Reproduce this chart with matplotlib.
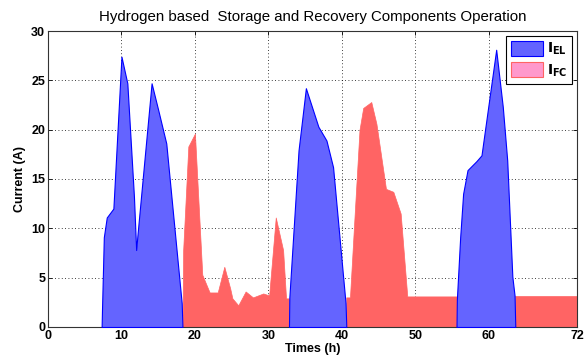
import matplotlib
matplotlib.use("Agg")
import matplotlib.pyplot as plt
from matplotlib.patches import Patch

# Electrolyzer current segments (time h, current A)
el1_t = [7.3, 7.35, 7.6, 8.0, 8.9, 10.0, 10.8, 11.7, 12.0, 12.2, 14.1, 15.0, 16.1, 18.2, 18.3]
el1_v = [0, 1.7, 9.1, 11.1, 12.0, 27.4, 24.7, 13.2, 7.8, 9.5, 24.7, 22.0, 18.6, 2.4, 0]
el2_t = [32.8, 32.85, 34.1, 35.1, 36.8, 37.9, 38.8, 40.5, 40.6]
el2_v = [0, 3.0, 17.9, 24.2, 20.3, 18.9, 16.2, 2.4, 0]
el3_t = [55.6, 55.65, 56.1, 56.5, 57.1, 58.3, 59.0, 61.0, 61.9, 62.5, 63.2, 63.5, 63.6]
el3_v = [0, 2.8, 9.1, 13.5, 15.9, 16.8, 17.4, 28.1, 22.3, 16.9, 5.1, 3.2, 0]

# Fuel cell current segments
fc1_t = [18.3, 18.4, 19.1, 20.0, 21.0, 22.0, 23.1, 24.0, 24.8, 25.1, 25.9, 26.9, 27.9, 29.3, 30.1, 31.0, 32.0, 32.4, 32.8]
fc1_v = [0, 7.8, 18.3, 19.6, 5.3, 3.5, 3.5, 6.1, 3.9, 2.9, 2.2, 3.6, 3.0, 3.4, 3.2, 11.1, 7.8, 2.9, 2.9]
fc2_t = [40.6, 41.1, 41.8, 42.4, 42.9, 44.0, 44.7, 46.0, 47.0, 48.0, 48.9, 55.6]
fc2_v = [3.0, 3.0, 12.2, 20.0, 22.2, 22.8, 20.6, 14.0, 13.7, 11.5, 3.1, 3.1]
fc3_t = [63.6, 72.0]
fc3_v = [3.1, 3.1]

xticks = [0, 10, 20, 30, 40, 50, 60, 72]
yticks = [0, 5, 10, 15, 20, 25, 30]

plt.rcParams['font.family'] = ['Liberation Sans', 'DejaVu Sans']

fig = plt.figure(figsize=(5.88, 3.63), dpi=100)
ax = fig.add_axes([0.0816, 0.0992, 0.8997, 0.8154])

blue_fill = '#6464ff'
blue_edge = '#0000ff'
red_fill = '#ff6464'

for t, v in [(fc1_t, fc1_v), (fc2_t, fc2_v), (fc3_t, fc3_v)]:
    ax.fill_between(t, 0, v, facecolor=red_fill, edgecolor=red_fill, linewidth=0.5, zorder=2)
for t, v in [(el1_t, el1_v), (el2_t, el2_v), (el3_t, el3_v)]:
    ax.fill_between(t, 0, v, facecolor=blue_fill, edgecolor=blue_edge, linewidth=0.8, zorder=3)

ax.set_xlim(0, 72)
ax.set_ylim(0, 30)
ax.set_xticks(xticks)
ax.set_yticks(yticks)
ax.tick_params(direction='in', top=True, right=True, length=3, width=0.6, labelsize=9, pad=2)
for lbl in ax.get_xticklabels() + ax.get_yticklabels():
    lbl.set_fontweight('bold')
ax.grid(True, linestyle=(0, (1, 3)), color='black', linewidth=0.6, zorder=1)
ax.set_axisbelow(True)
for s in ax.spines.values():
    s.set_linewidth(0.8)
    s.set_color('#333333')

ax.set_title('Hydrogen based  Storage and Recovery Components Operation', fontsize=10.8, pad=7)
ax.set_xlabel('Times (h)', fontsize=9, fontweight='bold', labelpad=1)
ax.set_ylabel('Current (A)', fontsize=9, fontweight='bold', labelpad=4)

handles = [Patch(facecolor=blue_fill, edgecolor=blue_edge, linewidth=0.8),
           Patch(facecolor='#ff99cc', edgecolor='#ff6464', linewidth=0.8)]
leg = ax.legend(handles, [r'$\mathbf{I_{EL}}$', r'$\mathbf{I_{FC}}$'],
                loc='upper right', fontsize=10, handlelength=2.3, handleheight=1.3,
                borderaxespad=0.35, handletextpad=0.3, borderpad=0.35, labelspacing=0.35,
                fancybox=False, framealpha=1, edgecolor='black')
leg.get_frame().set_linewidth(0.8)
leg.set_zorder(5)

fig.savefig('out.png', dpi=100)
